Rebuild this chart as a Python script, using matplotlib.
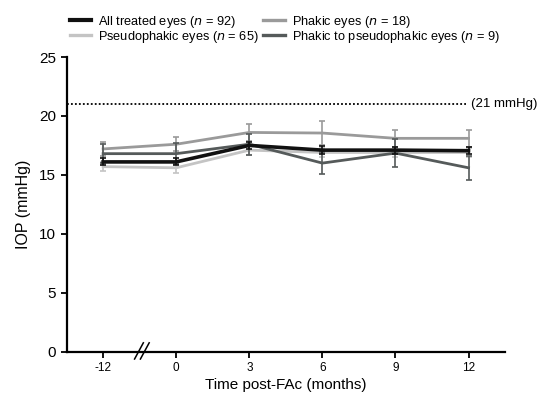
import matplotlib.pyplot as plt
import matplotlib.transforms as mtransforms
from matplotlib.lines import Line2D

plt.rcParams['font.family'] = ['Liberation Sans', 'DejaVu Sans']

# time points (months post-FAc), shown as evenly spaced categories
timepoints = ['-12', '0', '3', '6', '9', '12']

all_treated = [16.1, 16.1, 17.5, 17.1, 17.1, 17.05]
all_treated_err = [0.3, 0.3, 0.3, 0.35, 0.3, 0.3]

phakic = [17.2, 17.6, 18.6, 18.55, 18.1, 18.1]
phakic_err = [0.6, 0.6, 0.7, 1.0, 0.7, 0.7]

pseudophakic = [15.7, 15.6, 17.1, 16.9, 16.9, 16.9]
pseudophakic_err = [0.35, 0.4, 0.45, 0.4, 0.4, 0.4]

phakic_to_pseudo = [16.8, 16.8, 17.6, 16.0, 16.85, 15.6]
phakic_to_pseudo_err = [0.8, 0.9, 0.9, 0.9, 1.2, 1.0]

threshold = 21

series = [
    ('All treated eyes ($n$ = 92)', all_treated, all_treated_err, '#111111', 2.6),
    ('Pseudophakic eyes ($n$ = 65)', pseudophakic, pseudophakic_err, '#c4c4c4', 2.0),
    ('Phakic eyes ($n$ = 18)', phakic, phakic_err, '#9a9a9a', 2.0),
    ('Phakic to pseudophakic eyes ($n$ = 9)', phakic_to_pseudo, phakic_to_pseudo_err, '#555a5a', 2.0),
]

fig = plt.figure(figsize=(5.46, 3.96), dpi=100)
ax = fig.add_axes([0.122, 0.112, 0.803, 0.744])

x = list(range(len(timepoints)))
# draw lighter ones first so the black line sits on top
for order, idx in enumerate([2, 1, 3, 0]):
    label, vals, err, color, lw = series[idx]
    ax.errorbar(x, vals, yerr=err, color=color, lw=lw, elinewidth=1.2,
                capsize=2.5, capthick=1.2, zorder=3 + order)

# 21 mmHg reference line
ax.plot([-0.5, 4.96], [threshold, threshold], color='black', ls=(0, (1, 1.2)),
        lw=1.3, clip_on=False)
ax.text(5.03, threshold, '(21 mmHg)', ha='left', va='center', fontsize=9.5)

ax.set_xlim(-0.5, 5.5)
ax.set_ylim(0, 25)
ax.set_xticks(x)
ax.set_xticklabels(timepoints, fontsize=8.5)
ax.set_yticks([0, 5, 10, 15, 20, 25])
ax.tick_params(axis='y', labelsize=11, length=4, width=1.3)
ax.tick_params(axis='x', length=4, width=1.3)
ax.set_xlabel('Time post-FAc (months)', fontsize=11, labelpad=3)
ax.set_ylabel('IOP (mmHg)', fontsize=11.5, labelpad=6)

for side in ['top', 'right']:
    ax.spines[side].set_visible(False)
for side in ['left', 'bottom']:
    ax.spines[side].set_linewidth(1.6)

# axis break marks
trans = mtransforms.blended_transform_factory(ax.transData, ax.transAxes)
for dx in [-0.04, 0.04]:
    ax.plot([0.47 + dx, 0.59 + dx], [-0.025, 0.03], color='black', lw=1.1,
            transform=trans, clip_on=False, zorder=10)

handles = [Line2D([], [], color=s[3], lw=s[4] + 0.4) for s in series]
labels = [s[0] for s in series]
fig.legend(handles, labels, loc='upper left',
           bbox_to_anchor=(0.118, 0.978), ncol=2, frameon=False, fontsize=9.2,
           handlelength=1.7, handletextpad=0.5, columnspacing=0.4,
           labelspacing=-0.1, borderaxespad=0)

fig.savefig('out.png', dpi=100)
